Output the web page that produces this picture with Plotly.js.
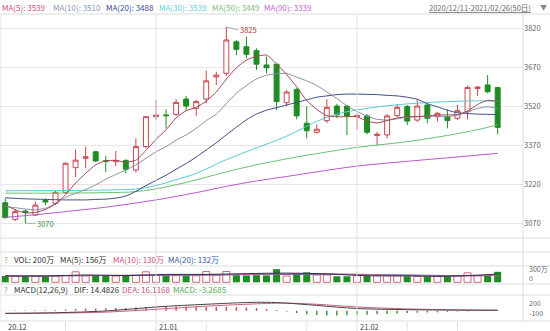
<!DOCTYPE html>
<html><head><meta charset="utf-8">
<script src="https://cdn.plot.ly/plotly-3.0.1.min.js"></script>
<style>html,body{margin:0;padding:0;background:#fff;}#chart{width:550px;height:331px;}</style>
</head><body><div id="chart"></div>
<script>
// ---------- data ----------
const dates = ['2020-12-11','2020-12-14','2020-12-15','2020-12-16','2020-12-17','2020-12-18','2020-12-21','2020-12-22','2020-12-23','2020-12-24','2020-12-25','2020-12-28','2020-12-29','2020-12-30','2020-12-31',
'2021-01-04','2021-01-05','2021-01-06','2021-01-07','2021-01-08','2021-01-11','2021-01-12','2021-01-13','2021-01-14','2021-01-15','2021-01-18','2021-01-19','2021-01-20','2021-01-21','2021-01-22','2021-01-25','2021-01-26','2021-01-27','2021-01-28','2021-01-29',
'2021-02-01','2021-02-02','2021-02-03','2021-02-04','2021-02-05','2021-02-08','2021-02-09','2021-02-10','2021-02-18','2021-02-19','2021-02-22','2021-02-23','2021-02-24','2021-02-25','2021-02-26'];
const openP  = [3149,3085,3117,3102,3158,3147,3189,3284,3320,3345,3311,3307,3312,3275,3365,3480,3487,3489,3548,3512,3548,3633,3647,3768,3749,3734,3679,3682,3534,3585,3455,3420,3465,3521,3521,3480,3483,3408,3410,3484,3519,3467,3525,3480,3480,3474,3499,3588,3602,3592];
const highP  = [3165,3125,3122,3153,3166,3195,3304,3355,3365,3348,3329,3348,3316,3397,3482,3544,3508,3547,3560,3545,3657,3653,3825,3775,3788,3743,3711,3684,3583,3590,3520,3450,3547,3530,3525,3493,3490,3422,3490,3529,3525,3547,3530,3499,3508,3525,3600,3598,3640,3594];
const lowP   = [3088,3079,3070,3098,3140,3140,3185,3247,3282,3305,3267,3290,3262,3266,3358,3467,3435,3483,3503,3483,3532,3602,3637,3717,3705,3660,3647,3506,3521,3470,3397,3415,3455,3474,3410,3429,3412,3370,3397,3478,3448,3460,3455,3461,3435,3467,3470,3560,3570,3413];
const closeP = [3092,3115,3113,3140,3152,3189,3301,3313,3326,3310,3308,3312,3278,3365,3480,3486,3484,3535,3521,3538,3618,3640,3775,3739,3720,3682,3668,3538,3575,3483,3426,3432,3516,3487,3483,3485,3420,3412,3483,3516,3463,3521,3474,3493,3465,3503,3592,3594,3576,3439];
const volume = [120,115,115,120,115,120,130,200,125,120,120,120,120,130,200,130,125,125,130,125,205,135,205,135,130,135,130,250,120,170,190,140,140,115,115,125,125,125,125,125,115,115,110,110,115,125,180,125,135,200];

const ma5  = [3140,3122,3110,3112,3123,3145,3180,3225,3262,3295,3310,3312,3305,3313,3350,3393,3430,3475,3503,3516,3540,3575,3625,3668,3698,3712,3717,3683,3642,3595,3542,3508,3484,3480,3480,3480,3463,3456,3465,3475,3480,3480,3483,3486,3487,3488,3502,3527,3543,3539];
const ma10 = [3135,3130,3125,3122,3128,3145,3170,3185,3200,3218,3240,3258,3275,3295,3320,3345,3365,3390,3410,3435,3465,3490,3530,3570,3600,3625,3640,3645,3647,3632,3618,3600,3575,3550,3522,3500,3482,3470,3467,3472,3478,3480,3481,3482,3480,3486,3498,3512,3518,3512];
const ma20 = [3168,3166,3164,3163,3162,3161,3160,3160,3160,3162,3163,3167,3175,3193,3215,3235,3255,3278,3300,3325,3352,3380,3410,3440,3468,3490,3505,3515,3525,3535,3545,3555,3560,3565,3567,3567,3566,3565,3562,3560,3555,3547,3530,3518,3505,3495,3492,3490,3489,3488];
const ma30Idx = [0,5,10,13,15,17,19,22,25,28,31,33,35,38,41,44,47,49];
const ma30    = [3195,3196,3198,3202,3215,3238,3262,3315,3360,3405,3462,3490,3506,3522,3532,3538,3541,3539];
const ma50Idx = [0,5,10,13,16,19,22,25,28,31,35,40,44,47,49];
const ma50    = [3186,3186,3188,3192,3210,3237,3268,3295,3318,3338,3362,3384,3408,3430,3449];
const ma90Idx = [0,3,6,10,15,19,22,25,28,31,35,39,44,49];
const ma90    = [3093,3103,3115,3132,3160,3188,3212,3233,3250,3268,3290,3305,3322,3339];

const volMaIdx = [0,4,8,12,16,20,24,28,32,36,40,44,49];
const volMa5   = [120,118,140,128,150,150,165,175,160,125,122,115,156];
const volMa10  = [124,120,128,135,138,140,150,160,162,150,128,118,130];
const volMa20  = [128,126,126,130,133,138,145,148,150,148,140,130,132];

const macdIdx = [0,5,10,15,20,24,26,28,31,35,40,45,49];
const dif = [-65,-50,-5,100,170,215,222,200,140,60,30,18,14.4826];
const dea = [-70,-60,-35,40,120,170,190,200,170,100,50,25,16.1168];
const macdHist = [8,10,12,15,18,20,30,45,55,60,65,70,75,85,100,115,120,115,110,105,100,100,105,95,85,70,50,20,-20,-60,-90,-110,-120,-120,-115,-110,-100,-90,-80,-70,-60,-50,-45,-40,-30,-20,-15,-10,-6,-3.2685];

const priceTicks = [3070,3220,3370,3520,3670,3820];
const dateTickIdx = [0,15,35];
const dateTickText = ['20.12','21.01','21.02'];
const minorTickIdx = [6,20,30,40,45];

// ---------- geometry helpers (plot area 523 x 331) ----------
const PW = 523, PH = 331;
const xp = px => px / PW;
const yp = py => 1 - py / PH;
const idx = dates.map((d,i) => i);

const UP = '#c8464e', DOWN = '#1f8c24';
const FONT = 'Noto Sans CJK SC, Liberation Sans, sans-serif';
const FS = 7.5;

const upIdx = idx.filter(i => closeP[i] >= openP[i]);
const dnIdx = idx.filter(i => closeP[i] < openP[i]);

const traces = [
  {type:'candlestick', x: idx, open: openP, high: highP, low: lowP, close: closeP, text: dates,
   increasing:{line:{color:UP,width:1}, fillcolor:'#ffffff'},
   decreasing:{line:{color:DOWN,width:1}, fillcolor:DOWN},
   whiskerwidth:0, xaxis:'x', yaxis:'y', hoverinfo:'text'},
  {type:'scatter', mode:'lines', x: ma90Idx, y: ma90, line:{color:'#b55cc8', width:1, shape:'spline'}, hoverinfo:'skip'},
  {type:'scatter', mode:'lines', x: ma50Idx, y: ma50, line:{color:'#6cbf74', width:1, shape:'spline'}, hoverinfo:'skip'},
  {type:'scatter', mode:'lines', x: ma30Idx, y: ma30, line:{color:'#5ccad2', width:1, shape:'spline'}, hoverinfo:'skip'},
  {type:'scatter', mode:'lines', x: idx, y: ma20, line:{color:'#3d4a86', width:1, shape:'spline', smoothing:0.6}, hoverinfo:'skip'},
  {type:'scatter', mode:'lines', x: idx, y: ma10, line:{color:'#8890a4', width:1, shape:'spline', smoothing:0.6}, hoverinfo:'skip'},
  {type:'scatter', mode:'lines', x: idx, y: ma5, line:{color:'#a04656', width:1, shape:'spline', smoothing:0.6}, hoverinfo:'skip'},
  // volume
  {type:'bar', x: upIdx, y: upIdx.map(i => volume[i]), width:0.7, marker:{color:'#ffffff', line:{color:'#cc6a7c', width:1}}, xaxis:'x', yaxis:'y2', hoverinfo:'skip'},
  {type:'bar', x: dnIdx, y: dnIdx.map(i => volume[i]), width:0.7, marker:{color:DOWN, line:{width:0}}, xaxis:'x', yaxis:'y2', hoverinfo:'skip'},
  {type:'scatter', mode:'lines', x: volMaIdx, y: volMa20, line:{color:'#4a66b4', width:1, shape:'spline'}, xaxis:'x', yaxis:'y2', hoverinfo:'skip'},
  {type:'scatter', mode:'lines', x: volMaIdx, y: volMa10, line:{color:'#d0608a', width:1, shape:'spline'}, xaxis:'x', yaxis:'y2', hoverinfo:'skip'},
  {type:'scatter', mode:'lines', x: volMaIdx, y: volMa5, line:{color:'#2e2e4e', width:1, shape:'spline'}, xaxis:'x', yaxis:'y2', hoverinfo:'skip'},
  // MACD
  {type:'bar', x: idx, y: macdHist, width:0.15, marker:{color: macdHist.map(v => v >= 0 ? '#c85050' : '#3a9a3a')}, xaxis:'x', yaxis:'y3', hoverinfo:'skip'},
  {type:'scatter', mode:'lines', x: macdIdx, y: dea, line:{color:'#c8607e', width:1, shape:'spline'}, xaxis:'x', yaxis:'y3', hoverinfo:'skip'},
  {type:'scatter', mode:'lines', x: macdIdx, y: dif, line:{color:'#444444', width:1, shape:'spline'}, xaxis:'x', yaxis:'y3', hoverinfo:'skip'}
];

// ---------- shapes ----------
const shapes = [];
[14,238,252,266,284,295,321].forEach(py => shapes.push({type:'line', xref:'paper', yref:'paper', x0:0, x1:xp(550), y0:yp(py), y1:yp(py), line:{color:'#dcdcdc', width:1}}));
dateTickIdx.slice(1).forEach(i => shapes.push({type:'line', xref:'x', yref:'paper', x0:i, x1:i, y0:0, y1:yp(14), line:{color:'#e2e2e2', width:1}}));
minorTickIdx.forEach(i => shapes.push({type:'line', xref:'x', yref:'paper', x0:i, x1:i, y0:0, y1:yp(321), line:{color:'#e6e6e6', width:1}}));
shapes.push({type:'line', xref:'paper', yref:'paper', x0:1, x1:1, y0:yp(321), y1:yp(14), line:{color:'#dcdcdc', width:1}});
shapes.push({type:'line', xref:'paper', yref:'paper', x0:xp(1), x1:xp(1), y0:yp(321), y1:yp(14), line:{color:'#e6e6e6', width:1}});

// ---------- annotations ----------
const anns = [];
function txt(t, px, py, color, size, anchor) {
  anns.push({xref:'paper', yref:'paper', x:xp(px), y:yp(py), text:t, showarrow:false, xanchor:anchor||'left', yanchor:'middle',
             font:{family:FONT, size:size||FS, color:color||'#555'}});
}
// header
txt('MA(5): 3539', 0, 7, '#d9506e', 8);
txt('MA(10): 3510', 51, 7, '#8a9ab8', 8);
txt('MA(20): 3488', 104, 7, '#3b4a96', 8);
txt('MA(30): 3539', 157, 7, '#5fd0da', 8);
txt('MA(50): 3449', 210, 7, '#74c27a', 8);
txt('MA(90): 3339', 262, 7, '#c266d6', 8);
txt('<u>2020/12/11-2021/02/26(50日)</u>', 427, 7, '#666');
txt('▼', 549, 7, '#888', 7, 'right');
// volume row
txt('?', 2, 259, '#999');
txt('VOL: 200万', 12, 259, '#333', 8);
txt('MA(5): 156万', 58, 259, '#333', 8);
txt('MA(10): 130万', 111, 259, '#d0507a', 8);
txt('MA(20): 132万', 166, 259, '#3a5aa8', 8);
txt('300万', 527, 269, '#666', 7);
txt('0', 527, 278, '#666', 7);
// macd row
txt('?', 2, 289, '#999');
txt('MACD(12,26,9)', 12, 289, '#333', 8);
txt('DIF: 14.4826', 72, 289, '#333', 8);
txt('DEA: 16.1168', 120, 289, '#c8507a', 8);
txt('MACD: -3.2685', 171, 289, '#4caf50', 8);
txt('200', 527, 303, '#666', 7);
txt('-100', 527, 313, '#666', 7);
// date labels
dateTickIdx.forEach((i, k) => anns.push({xref:'x', yref:'paper', x:i, y:yp(326), text:dateTickText[k], showarrow:false, xanchor:'left', yanchor:'middle', xshift:1,
  font:{family:FONT, size:FS, color:'#444'}}));
// extreme marks
anns.push({xref:'x', yref:'y', x:22, y:3825, text:'3825', showarrow:true, arrowhead:0, arrowwidth:0.8, arrowcolor:'#999', ax:12, ay:3, xanchor:'left', yanchor:'middle', font:{family:FONT, size:FS, color:'#b03a3a'}});
anns.push({xref:'x', yref:'y', x:2, y:3070, text:'3070', showarrow:true, arrowhead:0, arrowwidth:0.8, arrowcolor:'#999', ax:10, ay:0, xanchor:'left', yanchor:'middle', font:{family:FONT, size:FS, color:'#3d8b3d'}});

const layout = {
  width:550, height:331, margin:{l:0, r:27, t:0, b:0}, paper_bgcolor:'#fff', plot_bgcolor:'#fff',
  showlegend:false, barmode:'overlay', hovermode:false,
  font:{family:FONT, size:FS, color:'#555'},
  xaxis:{range:[-0.522, 51.52], showgrid:false, zeroline:false, showticklabels:false, ticks:'', showline:false, rangeslider:{visible:false}, fixedrange:true},
  yaxis:{domain:[yp(238), yp(14)], range:[3013.5, 3875], side:'right', tickmode:'array', tickvals:priceTicks, ticktext:priceTicks.map(String),
         showgrid:true, gridcolor:'#e6e6e6', gridwidth:1, zeroline:false, ticks:'', showline:false, automargin:false,
         tickfont:{family:FONT, size:FS, color:'#666'}, fixedrange:true},
  yaxis2:{domain:[yp(284), yp(266)], range:[-32, 310], showgrid:false, zeroline:false, showticklabels:false, anchor:'x', fixedrange:true},
  yaxis3:{domain:[yp(321), yp(295)], range:[-265, 411], showgrid:false, zeroline:false, showticklabels:false, anchor:'x', fixedrange:true},
  shapes: shapes,
  annotations: anns
};

Plotly.newPlot('chart', traces, layout, {displayModeBar:false, staticPlot:true});
</script>
</body></html>
